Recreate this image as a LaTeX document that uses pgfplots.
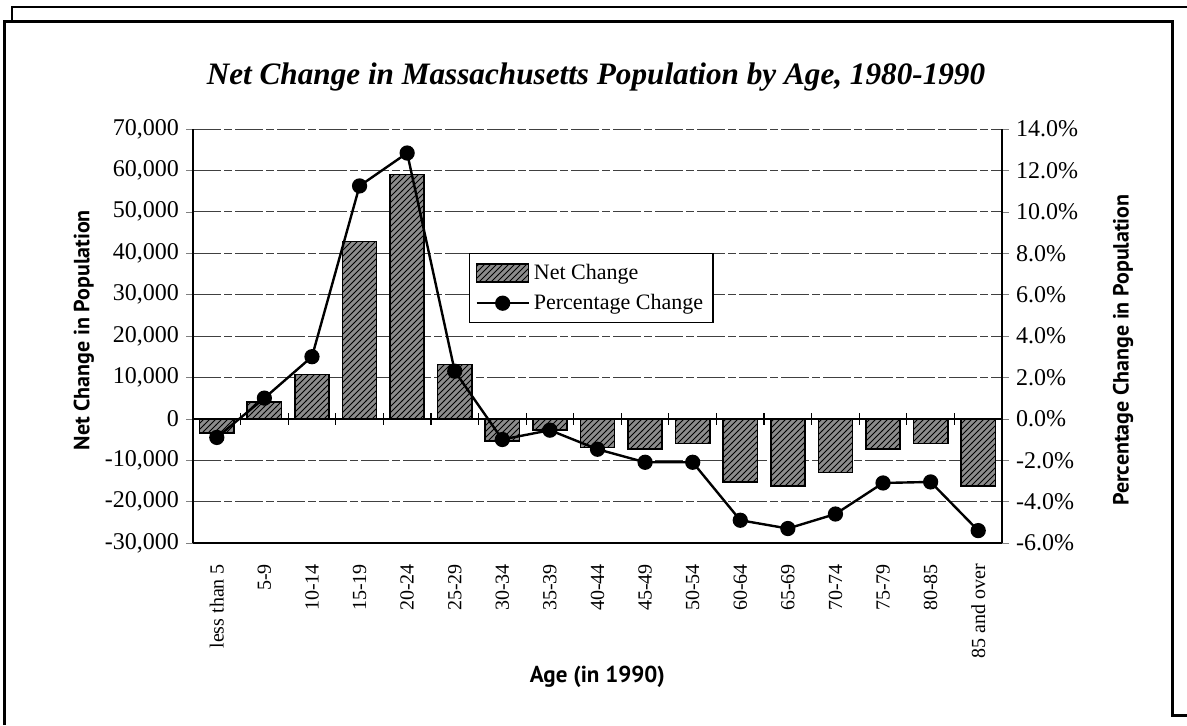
\documentclass[border=0pt]{standalone}
\usepackage{fontspec}
\setmainfont{Liberation Serif}
\newfontfamily\lblfont{PT Sans}
\usepackage{pgfplots}
\pgfplotsset{compat=1.18}
\usetikzlibrary{patterns}
\pgfplotsset{
  lineleg/.style={legend image code/.code={\draw[mark repeat=2,mark phase=2,##1] plot coordinates {(0pt,0pt) (13pt,0pt) (26pt,0pt)};}},
  barleg/.style={legend image code/.code={\draw[black, line width=0.8pt, fill=black!45, postaction={pattern=north east lines}] (0pt,-4.5pt) rectangle (26pt,4.5pt);}},
}

\begin{document}
\begin{tikzpicture}
\useasboundingbox (0,0) rectangle (593.5pt,362.5pt);
% scanned page frame
\draw[line width=1.5pt] (2pt,0pt) -- (2pt,351.5pt) -- (586pt,351.5pt) -- (586pt,5pt) -- (593.5pt,5pt);
\draw[line width=1.2pt] (6pt,351.5pt) -- (6pt,359pt) -- (593.5pt,359pt);

\node[font=\fontsize{15.6}{18}\selectfont\bfseries\itshape, anchor=base] at (298pt,320pt)
  {Net Change in Massachusetts Population by Age, 1980-1990};

\begin{axis}[
  at={(96.5pt,91pt)}, anchor=south west,
  width=404.5pt, height=207pt, scale only axis,
  xmin=-0.5, xmax=16.5, ymin=-30000, ymax=70000,
  axis x line*=bottom, axis y line*=left,
  axis line style={line width=0.9pt},
  ytick={-30000,-20000,...,70000},
  scaled y ticks=false,
  /pgf/number format/assume math mode=true,
  /pgf/number format/1000 sep={,},
  yticklabel style={font=\fontsize{12}{14}\selectfont},
  tick align=outside, major tick length=3.5pt,
  ymajorgrids,
  major grid style={black!75, line width=0.45pt, dash pattern=on 14pt off 1.5pt on 4pt off 1.5pt},
  xtick={0,...,16},
  major x tick style={draw=none},
  xticklabels={less than 5,5-9,10-14,15-19,20-24,25-29,30-34,35-39,40-44,45-49,50-54,60-64,65-69,70-74,75-79,80-85,85 and over},
  xticklabel style={rotate=90, anchor=east, font=\fontsize{10}{12}\selectfont, xshift=-3.5pt},
  xlabel={Age (in 1990)},
  xlabel style={at={(axis description cs:0.5,-0.324)}, anchor=center, font=\lblfont\bfseries\fontsize{11.5}{13}\selectfont},
  ylabel={Net Change in Population},
  ylabel style={at={(axis description cs:-0.135,0.514)}, anchor=center, font=\lblfont\bfseries\fontsize{11}{13}\selectfont},
]
\addplot[ybar, bar width=0.72, draw=black, line width=0.8pt, fill=black!45,
  postaction={pattern=north east lines}] coordinates {
  (0,-3400) (1,4000) (2,10700) (3,42800) (4,59000) (5,13100) (6,-5400)
  (7,-2700) (8,-6900) (9,-7300) (10,-6000) (11,-15300) (12,-16200)
  (13,-13000) (14,-7300) (15,-6000) (16,-16200)
};
\draw[line width=0.9pt] (axis cs:-0.5,0) -- (axis cs:16.5,0);
\pgfplotsinvokeforeach{0.5,1.5,...,15.5}{
  \draw[line width=0.6pt] ([yshift=-3pt]axis cs:#1,0) -- ([yshift=3pt]axis cs:#1,0);
}
\end{axis}

\begin{axis}[
  at={(96.5pt,91pt)}, anchor=south west,
  width=404.5pt, height=207pt, scale only axis,
  xmin=-0.5, xmax=16.5, ymin=-6, ymax=14,
  axis x line=none, axis y line*=right,
  axis line style={line width=0.9pt},
  ytick={-6,-4,...,14},
  tick align=outside, major tick length=3.5pt,
  yticklabel={\pgfmathprintnumber[fixed,fixed zerofill,precision=1,assume math mode=true]{\tick}\%},
  yticklabel style={font=\fontsize{12}{14}\selectfont},
  ylabel={Percentage Change in Population},
  ylabel style={at={(axis description cs:1.1496,0.466)}, anchor=center, font=\lblfont\bfseries\fontsize{11}{13}\selectfont},
  legend style={at={(axis description cs:0.341,0.70)}, anchor=north west,
    draw=black, line width=0.6pt, fill=white,
    font=\fontsize{11}{13}\selectfont, row sep=2pt,
    inner xsep=3pt, inner ysep=3pt},
  legend cell align=left,
]
\addlegendimage{barleg}
\addlegendentry{Net Change}
\addplot[black, line width=1.2pt, mark=*, mark size=3.2pt, lineleg]
  coordinates {
  (0,-0.9) (1,1.0) (2,3.0) (3,11.25) (4,12.84) (5,2.3) (6,-1.0)
  (7,-0.55) (8,-1.47) (9,-2.1) (10,-2.1) (11,-4.9) (12,-5.3)
  (13,-4.6) (14,-3.1) (15,-3.05) (16,-5.4)
};
\addlegendentry{Percentage Change}
\end{axis}
\end{tikzpicture}
\end{document}
